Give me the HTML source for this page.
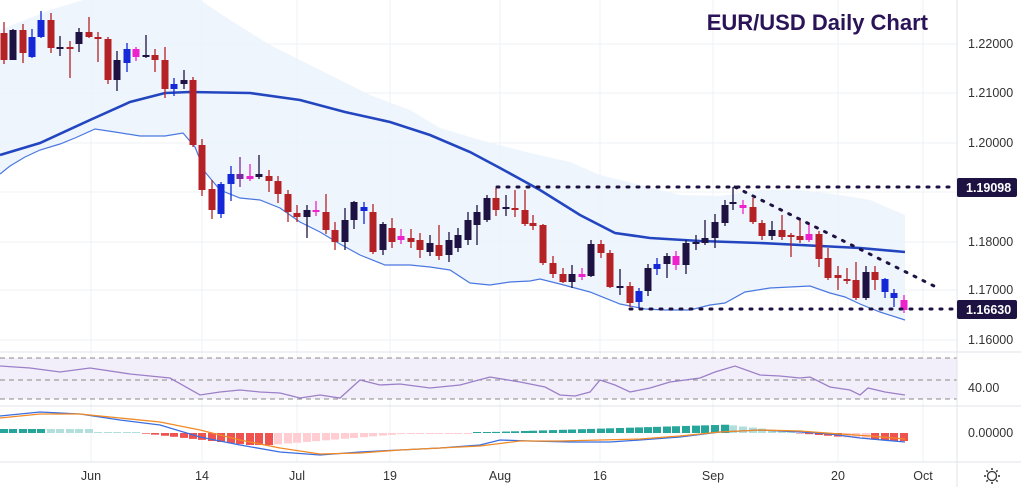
<!DOCTYPE html>
<html><head><meta charset="utf-8"><style>
html,body{margin:0;padding:0;background:#fff;width:1021px;height:487px;overflow:hidden}
svg{display:block;font-family:"Liberation Sans",sans-serif}
</style></head><body>
<svg id="s" width="1021" height="487" viewBox="0 0 1021 487">
<rect width="1021" height="487" fill="#fff"/>
<g id="grid" stroke="#eef0f4" stroke-width="1"></g>
<polygon id="band" fill="#eaf3fd" opacity="0.8"/>
<g id="macdh"></g>
<rect x="0" y="358" width="957" height="41" fill="#f3effa"/>
<g stroke="#888" stroke-dasharray="5,4" stroke-width="1">
<line x1="0" y1="358" x2="957" y2="358"/><line x1="0" y1="380" x2="957" y2="380"/><line x1="0" y1="399" x2="957" y2="399"/></g>
<line x1="0" y1="352" x2="1021" y2="352" stroke="#e0e3eb"/>
<line x1="0" y1="406" x2="1021" y2="406" stroke="#e0e3eb"/>
<line x1="0" y1="462" x2="1021" y2="462" stroke="#e0e3eb"/>
<line x1="957" y1="0" x2="957" y2="487" stroke="#e0e3eb"/>
<polyline id="lower" fill="none" stroke="#4a78e0" stroke-width="1.2"/>
<polyline id="ma" fill="none" stroke="#2346c0" stroke-width="2.6"/>
<g id="candles"></g>
<g stroke="#1e1242" stroke-width="3" stroke-dasharray="2,8" stroke-linecap="round">
<line x1="497" y1="187" x2="952" y2="187"/><line x1="630" y1="309" x2="952" y2="309"/><line x1="735" y1="187" x2="940" y2="289"/></g>
<polyline id="rsi" fill="none" stroke="#9b7fc8" stroke-width="1.3"/>
<polyline id="mb" fill="none" stroke="#3a6ee0" stroke-width="1.3"/>
<polyline id="mo" fill="none" stroke="#f08a24" stroke-width="1.3"/>
<text x="928" y="30" text-anchor="end" font-size="22" font-weight="bold" fill="#2a1457">EUR/USD Daily Chart</text>
<g font-size="12.5" fill="#333">
<text x="968" y="48">1.22000</text><text x="968" y="97">1.21000</text><text x="968" y="147">1.20000</text>
<text x="968" y="246">1.18000</text><text x="968" y="294">1.17000</text><text x="968" y="344">1.16000</text>
<text x="968" y="392">40.00</text><text x="968" y="437">0.00000</text></g>
<rect x="957" y="178" width="60" height="19" rx="2" fill="#1e1242"/>
<rect x="957" y="300" width="60" height="19" rx="2" fill="#1e1242"/>
<g font-size="12.5" font-weight="bold" fill="#fff"><text x="966" y="192">1.19098</text><text x="966" y="314">1.16630</text></g>
<g font-size="12.5" fill="#333" text-anchor="middle">
<text x="91" y="480">Jun</text><text x="202" y="480">14</text><text x="297" y="480">Jul</text><text x="390" y="480">19</text>
<text x="500" y="480">Aug</text><text x="600" y="480">16</text><text x="713" y="480">Sep</text><text x="838" y="480">20</text><text x="923" y="480">Oct</text></g>
<g transform="translate(992,476)" stroke="#333" fill="none" stroke-width="1.3"><circle r="4.5"/>
<g stroke-width="1.5"><line x1="0" y1="-8" x2="0" y2="-6"/><line x1="0" y1="8" x2="0" y2="6"/><line x1="-8" y1="0" x2="-6" y2="0"/><line x1="8" y1="0" x2="6" y2="0"/>
<line x1="-5.6" y1="-5.6" x2="-4.2" y2="-4.2"/><line x1="5.6" y1="5.6" x2="4.2" y2="4.2"/><line x1="-5.6" y1="5.6" x2="-4.2" y2="4.2"/><line x1="5.6" y1="-5.6" x2="4.2" y2="-4.2"/></g></g>
</svg>
<script>
var NS="http://www.w3.org/2000/svg";
function el(p,t,a){var e=document.createElementNS(NS,t);for(var k in a)e.setAttribute(k,a[k]);p.appendChild(e);return e;}
function pts(a){return a.map(function(p){return p[0]+","+p[1]}).join(" ");}
var g=document.getElementById("grid");
[91,202,297,390,500,600,713,838,923].forEach(function(x){el(g,"line",{x1:x,y1:0,x2:x,y2:462});});
[44,93,143,192,242,290,340].forEach(function(y){el(g,"line",{x1:0,y1:y,x2:957,y2:y});});
var up=[[0,30],[50,10],[100,-5],[200,0],[230,20],[270,45],[300,60],[330,75],[370,95],[410,110],[440,128],[480,140],[530,153],[570,162],[600,175],[640,185],[680,195],[720,196],[760,190],[800,190],[840,195],[870,200],[905,215]];
var lo=[[0,174],[10,166],[25,157],[40,150],[60,144],[75,138],[95,129],[115,132],[140,136],[165,136],[183,133],[195,147],[205,172],[220,190],[240,198],[260,200],[280,208],[300,222],[320,232],[340,244],[360,255],[385,265],[410,265],[430,267],[450,270],[470,283],[490,285],[510,282],[530,281],[540,279],[560,284],[590,292],[620,304],[645,309],[665,310],[690,310],[710,305],[725,303],[745,292],[770,288],[810,286],[830,293],[845,297],[860,304],[880,312],[905,320]];
document.getElementById("band").setAttribute("points",pts(up.concat(lo.slice().reverse())));
document.getElementById("lower").setAttribute("points",pts(lo));
document.getElementById("ma").setAttribute("points",pts([[0,155],[40,143],[90,120],[130,102],[165,93],[190,92],[250,93],[300,100],[345,112],[390,122],[430,135],[470,152],[500,168],[540,190],[580,215],[615,233],[650,238],[700,241],[760,243],[820,246],[860,248],[905,252]]));
// candles: [x, top, bottom, hi, lo, color]
var R="#b52226",D="#1e1242",B="#1428d8",P="#ee22cc",V="#7a2aa0";
var c=[[4,33,60,22,64,R],[13,30,60,29,60,D],[23,30,53,24,63,R],[32,37,57,29,58,B],[41,20,37,11,38,B],[51,20,48,13,53,R],[60,47,48,36,56,D],[70,47,49,41,78,R],[79,32,44,28,52,D],[89,32,37,17,38,R],[98,37,39,32,62,R],[108,39,80,37,84,R],[117,60,80,51,91,D],[127,49,63,43,72,B],[136,49,57,47,61,P],[146,55,57,35,58,D],[155,55,60,49,72,R],[165,60,89,47,98,R],[174,84,89,78,96,B],[184,80,84,70,89,D],[193,80,145,77,147,R],[202,145,190,139,196,R],[212,189,210,180,219,R],[221,184,214,182,218,B],[231,174,184,166,201,B],[240,174,179,157,187,V],[250,176,179,164,181,P],[259,174,177,155,179,D],[269,176,181,170,192,R],[278,181,194,176,203,R],[288,194,212,190,222,R],[297,213,217,205,222,R],[307,210,217,205,238,D],[316,210,212,201,216,P],[326,212,230,194,234,R],[335,230,242,222,250,R],[345,220,242,208,250,D],[354,202,220,201,229,D],[364,207,211,202,224,B],[373,212,252,204,254,R],[383,224,250,222,255,D],[392,228,242,218,248,R],[401,236,240,229,244,P],[411,238,242,229,248,R],[420,240,250,233,258,R],[430,243,252,235,256,D],[439,245,256,225,260,R],[449,240,255,232,262,D],[458,235,248,228,252,D],[468,220,240,212,245,D],[477,212,225,205,245,D],[487,198,220,195,222,D],[496,198,210,188,216,R],[506,207,209,195,216,D],[515,208,210,190,217,R],[525,210,224,190,226,R],[533,223,226,215,230,R],[543,225,263,224,265,R],[553,263,274,256,278,R],[563,274,282,268,283,R],[572,274,282,265,288,D],[582,274,277,268,280,P],[591,244,276,240,277,D],[601,244,253,240,258,R],[610,253,287,250,288,R],[620,286,288,269,295,D],[630,286,303,282,307,R],[639,291,302,288,308,B],[648,268,291,264,296,D],[657,264,269,258,275,B],[667,256,264,253,278,D],[676,256,265,251,270,P],[686,243,265,240,274,D],[696,242,244,235,250,D],[705,238,243,220,245,D],[715,222,238,214,248,D],[725,205,223,200,226,D],[733,202,204,187,210,D],[743,205,208,200,214,P],[753,207,222,198,224,R],[762,223,236,220,240,R],[772,230,236,221,240,D],[782,230,237,215,240,R],[791,235,237,233,257,R],[800,236,240,220,243,R],[809,234,240,224,242,P],[819,234,259,231,267,R],[828,258,278,248,280,R],[838,275,278,266,290,R],[847,279,281,268,284,R],[856,280,298,262,300,R],[866,272,298,266,300,D],[875,272,280,266,290,R],[885,279,292,278,298,B],[894,293,298,289,307,B],[904,300,310,295,313,P]];
var cg=document.getElementById("candles");
c.forEach(function(k){el(cg,"line",{x1:k[0],y1:k[3],x2:k[0],y2:k[4],stroke:k[5],"stroke-width":1.3});
el(cg,"rect",{x:k[0]-3.5,y:k[1],width:7,height:Math.max(2,k[2]-k[1]),fill:k[5]});});
document.getElementById("rsi").setAttribute("points",pts([[0,366],[30,368],[60,372],[90,368],[130,374],[170,378],[200,395],[220,392],[240,390],[260,392],[280,393],[300,398],[320,395],[340,398],[360,380],[380,385],[400,384],[430,388],[460,385],[490,377],[520,382],[545,387],[560,395],[575,396],[590,392],[600,380],[615,385],[630,392],[650,388],[670,382],[700,378],[715,372],[735,366],[760,375],[780,376],[800,378],[810,377],[830,387],[850,390],[860,395],[868,388],[885,392],[905,395]]));
document.getElementById("mb").setAttribute("points",pts([[0,416],[40,412],[80,414],[120,420],[160,425],[200,437],[240,445],[280,452],[320,455],[360,452],[400,450],[440,448],[480,445],[500,440],[530,441],[570,442],[610,442],[640,440],[680,437],[720,432],[760,430],[800,432],[830,434],[860,438],[905,442]]));
document.getElementById("mo").setAttribute("points",pts([[0,418],[40,414],[80,414],[120,418],[160,422],[200,430],[240,440],[280,448],[320,454],[360,453],[400,450],[440,448],[480,446],[520,441],[560,441],[600,440],[640,439],[680,436],[720,432],[760,430],[800,431],[840,434],[870,436],[905,439]]));
var hg=document.getElementById("macdh");
c.forEach(function(k,i){var x=k[0],h,col;
if(x<90){h=4;col=x<50?"#26a69a":"#b2dfdb";}
else if(x<145){h=1;col="#b2dfdb";}
else if(x<270){h=-Math.min(12,(x-140)/9);col="#ef5350";}
else if(x<420){h=-Math.max(1,12-(x-270)/12);col="#ffcdd2";}
else if(x<470){h=-1;col="#ffcdd2";}
else if(x<730){h=Math.max(1,(x-460)/32);col="#26a69a";}
else if(x<800){h=Math.max(1,8-(x-730)/9);col="#b2dfdb";}
else {h=-Math.min(8,(x-795)/12);col=(x>840&&x<870)?"#ffcdd2":"#ef5350";}
var y=433;el(hg,"rect",{x:x-4,y:h>0?y-h:y,width:8,height:Math.abs(h)||1,fill:col});});
</script>
</body></html>
